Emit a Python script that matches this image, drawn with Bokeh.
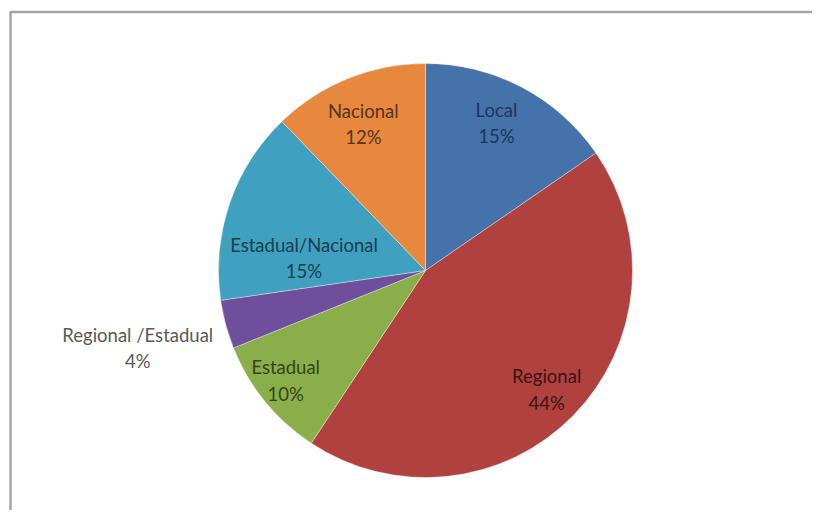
import math
from bokeh.plotting import figure
from bokeh.models import Range1d, ColumnDataSource, BoxAnnotation
from bokeh.core.properties import value
from bokeh.embed import file_html
from bokeh.resources import INLINE

# ---- data ----
categories = ["Local", "Regional", "Estadual", "Regional /Estadual", "Estadual/Nacional", "Nacional"]
shares = [15.4, 43.9, 9.6, 3.8, 15.1, 12.2]
pct_labels = ["15%", "44%", "10%", "4%", "15%", "12%"]

# ---- style ----
slice_colors = ["#4672AA", "#B0413F", "#8AAF4A", "#6F4E9C", "#3FA0BF", "#E8883E"]
label_colors = ["#1E3558", "#3A1414", "#34441A", "#595959", "#163F52", "#55341A"]
label_radius = [0.79, 0.82, 0.86, 1.44, 0.59, 0.77]   # fraction of pie radius
label_nudge = [-2, 0, 1, 0, -13, -1]                  # degrees

W, H = 812, 510
CX, CY, R = 425, 526 - 270, 207   # screen pixel coords (y flipped)

p = figure(width=W, height=H, output_backend="svg", toolbar_location=None,
           x_range=Range1d(0, W), y_range=Range1d(526 - H, 526),
           min_border=0)
p.axis.visible = False
p.grid.visible = False
p.outline_line_color = None
p.background_fill_color = "white"
p.border_fill_color = "white"

total = sum(shares)
starts, ends, lx, ly, texts = [], [], [], [], []
cum = 0.0
for i, s in enumerate(shares):
    a0 = cum / total * 2 * math.pi
    cum += s
    a1 = cum / total * 2 * math.pi
    starts.append(math.pi / 2 - a0)
    ends.append(math.pi / 2 - a1)
    mid = (a0 + a1) / 2 + math.radians(label_nudge[i])
    lx.append(CX + label_radius[i] * R * math.sin(mid))
    ly.append(CY + label_radius[i] * R * math.cos(mid))
    texts.append(categories[i] + "\n" + pct_labels[i])

src = ColumnDataSource(dict(start=starts, end=ends, color=slice_colors,
                            lx=lx, ly=ly, text=texts, tcolor=label_colors))

p.wedge(x=CX, y=CY, radius=R, start_angle="start", end_angle="end",
        direction="clock", fill_color="color", line_color="white",
        line_alpha=0.35, line_width=1, source=src)

p.text(x="lx", y="ly", text="text", text_color="tcolor", source=src,
       text_font=value("Lato"), text_font_size="18.5px",
       text_align="center", text_baseline="middle", text_line_height=1.2)

# chart-area frame (only top and left edges fall inside the crop)
p.add_layout(BoxAnnotation(left=10, top=526 - 11.5, right=2000, bottom=-2000,
                           fill_color=None, fill_alpha=0,
                           line_color="#A6A6A6", line_alpha=1.0, line_width=2.5))

open("out.html", "w").write(file_html(p, INLINE))
